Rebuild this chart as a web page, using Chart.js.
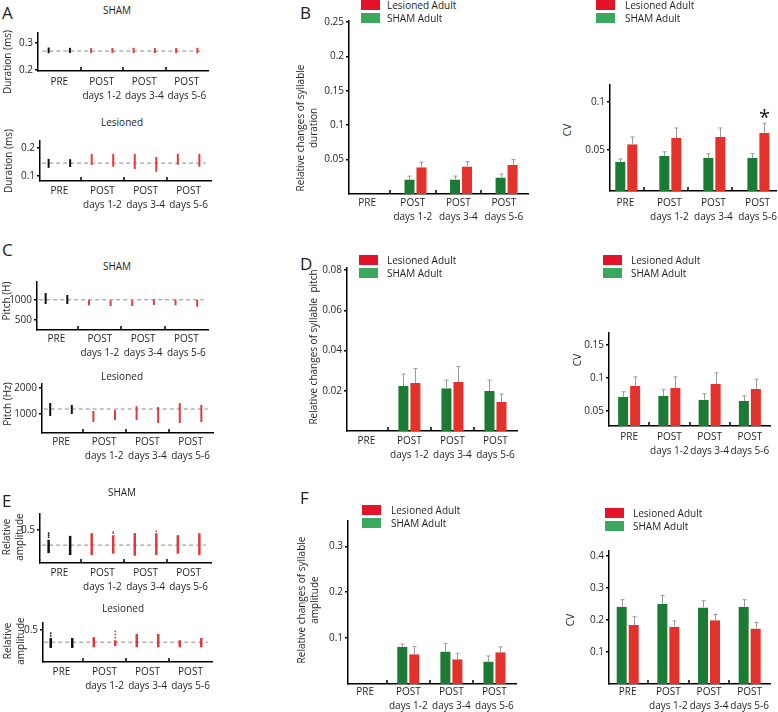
<!DOCTYPE html>
<html><head><meta charset="utf-8"><title>Syllable features after lesion</title>
<script src="https://cdn.jsdelivr.net/npm/chart.js@4.4.1/dist/chart.umd.min.js"></script>
<style>
html,body{margin:0;padding:0;background:#fff}
body{position:relative;width:778px;height:712px;overflow:hidden;font-family:"Open Sans",sans-serif;color:#231f20}
canvas{position:absolute}
.tx{position:absolute;font-size:10px;line-height:13px;white-space:pre;text-align:center;transform:translate(-50%,-50%)}
.rot{transform:translate(-50%,-50%) rotate(-90deg)}
.let{position:absolute;font-size:17px;line-height:17px;transform:translateY(-50%)}
.sw{position:absolute;width:19px}
.lg{position:absolute;font-size:10px;line-height:12px;white-space:nowrap;transform:translateY(-50%)}
</style></head><body>
<script>
// ---------- categories, series, tick labels ----------
const categories = ['PRE', ['POST', 'days 1-2'], ['POST', 'days 3-4'], ['POST', 'days 5-6']];
const seriesNames = ['Lesioned Adult', 'SHAM Adult'];

// ---------- left column: per-song strips (two per category: low / high) ----------
const durShamLow  = [0.262, 0.263, 0.263, 0.263, 0.263, 0.263, 0.262, 0.262];
const durShamHigh = [0.283, 0.282, 0.281, 0.281, 0.282, 0.281, 0.281, 0.282];
const durShamRef = 0.270;
const durLesLow  = [0.129, 0.132, 0.139, 0.133, 0.125, 0.115, 0.140, 0.133];
const durLesHigh = [0.161, 0.160, 0.179, 0.179, 0.179, 0.168, 0.179, 0.179];
const durLesRef = 0.146;
const pitchShamLow  = [900, 900, 867, 850, 850, 875, 867, 833];
const pitchShamHigh = [1175, 1125, 1000, 992, 992, 1017, 1008, 1000];
const pitchShamRef = 1005;
const pitchLesLow  = [923, 1000, 692, 770, 770, 650, 650, 690];
const pitchLesHigh = [1423, 1346, 1115, 1150, 1300, 1270, 1420, 1350];
const pitchLesRef = 1192;
const ampShamLow  = [0.15, 0.12, 0.12, 0.14, 0.11, 0.12, 0.14, 0.12];
const ampShamHigh = [0.35, 0.41, 0.45, 0.42, 0.45, 0.45, 0.42, 0.45];
const ampShamRef = 0.27;
// isolated outlier points: [strip index, value]
const ampShamOutliers = [[0, 0.39], [0, 0.42], [0, 0.45], [3, 0.45], [3, 0.47], [5, 0.48]];
const ampLesLow  = [0.22, 0.22, 0.23, 0.25, 0.23, 0.23, 0.23, 0.23];
const ampLesHigh = [0.375, 0.375, 0.39, 0.34, 0.44, 0.44, 0.34, 0.375];
const ampLesRef = 0.31;
const ampLesOutliers = [[0, 0.41], [0, 0.45], [3, 0.38], [3, 0.43], [3, 0.48]];

// ---------- relative changes (middle column) ----------
const durRelSham    = [null, 0.021, 0.021, 0.024];
const durRelShamErr = [null, 0.026, 0.026, 0.029];
const durRelLes     = [null, 0.039, 0.040, 0.042];
const durRelLesErr  = [null, 0.046, 0.047, 0.050];
const pitchRelSham    = [null, 0.0223, 0.0213, 0.0199];
const pitchRelShamErr = [null, 0.0283, 0.0253, 0.0253];
const pitchRelLes     = [null, 0.0238, 0.0243, 0.0144];
const pitchRelLesErr  = [null, 0.031, 0.032, 0.0184];
const ampRelSham    = [null, 0.081, 0.071, 0.049];
const ampRelShamErr = [null, 0.087, 0.088, 0.061];
const ampRelLes     = [null, 0.065, 0.054, 0.069];
const ampRelLesErr  = [null, 0.082, 0.067, 0.081];

// ---------- CV (right column) ----------
const durCvSham    = [0.0375, 0.0437, 0.0417, 0.0417];
const durCvShamErr = [0.0406, 0.048, 0.046, 0.046];
const durCvLes     = [0.056, 0.0625, 0.0635, 0.068];
const durCvLesErr  = [0.0635, 0.073, 0.073, 0.078];
const durCvMarks   = ['', '', '', '*'];
const pitchCvSham    = [0.0712, 0.0727, 0.0667, 0.065];
const pitchCvShamErr = [0.0788, 0.082, 0.0758, 0.0727];
const pitchCvLes     = [0.0879, 0.0848, 0.091, 0.083];
const pitchCvLesErr  = [0.1015, 0.1015, 0.1076, 0.098];
const ampCvSham    = [0.241, 0.250, 0.239, 0.241];
const ampCvShamErr = [0.263, 0.276, 0.260, 0.263];
const ampCvLes     = [0.184, 0.179, 0.199, 0.173];
const ampCvLesErr  = [0.210, 0.197, 0.217, 0.192];

// ---------- y tick values / labels ----------
const durShamTicks = [0.2, 0.3],   durShamTickLabels = ['0.2', '0.3'];
const durLesTicks = [0.1, 0.2],    durLesTickLabels = ['0.1', '0.2'];
const pitchShamTicks = [500, 1000], pitchShamTickLabels = ['500', '1000'];
const pitchLesTicks = [1000, 2000], pitchLesTickLabels = ['1000', '2000'];
const ampTicks = [0.5], ampTickLabels = ['0.5'];
const durRelTicks = [0.05, 0.1, 0.15, 0.2, 0.25], durRelTickLabels = ['0.05', '0.1', '0.15', '0.2', '0.25'];
const durCvTicks = [0.05, 0.1], durCvTickLabels = ['0.05', '0.1'];
const pitchRelTicks = [0.02, 0.04, 0.06, 0.08], pitchRelTickLabels = ['0.02', '0.04', '0.06', '0.08'];
const pitchCvTicks = [0.05, 0.1, 0.15], pitchCvTickLabels = ['0.05', '0.1', '0.15'];
const ampRelTicks = [0.1, 0.2, 0.3], ampRelTickLabels = ['0.1', '0.2', '0.3'];
const ampCvTicks = [0.1, 0.2, 0.3, 0.4], ampCvTickLabels = ['0.1', '0.2', '0.3', '0.4'];

// ---------- styles ----------
const GREEN = '#1b7b35', RED = '#e3312b', STRIP_RED = '#e03b3b', STRIP_BLACK = '#111111';
const SW_RED = '#e3132a', SW_GREEN = '#3aa95e', ERR = '#9a9a9a';
const FONT = {family: '"Open Sans", sans-serif', size: 10, lineHeight: 1.35};

const sepPlugin = {
  id: 'sep',
  afterDraw(chart, args, opts) {
    const xs = chart.scales.x, ctx = chart.ctx, yb = chart.chartArea.bottom;
    ctx.save(); ctx.strokeStyle = '#000'; ctx.lineWidth = 1.5;
    (opts.at || []).forEach(v => {
      const px = Math.round(xs.getPixelForValue(v));
      ctx.beginPath(); ctx.moveTo(px, yb); ctx.lineTo(px, yb - 4); ctx.stroke();
    });
    ctx.restore();
  }
};
const errPlugin = {
  id: 'errbars',
  afterDatasetsDraw(chart) {
    const ctx = chart.ctx, ys = chart.scales.y;
    chart.data.datasets.forEach((ds, di) => {
      if (!ds.errTop) return;
      const meta = chart.getDatasetMeta(di);
      meta.data.forEach((el, i) => {
        const e = ds.errTop[i], v = ds.data[i].y;
        if (e == null || v == null) return;
        const x = Math.round(el.x) + 0.5, y0 = el.y, y1 = ys.getPixelForValue(e);
        ctx.save(); ctx.strokeStyle = ERR; ctx.lineWidth = 1;
        ctx.beginPath(); ctx.moveTo(x, y0); ctx.lineTo(x, y1);
        ctx.moveTo(x - 2, y1); ctx.lineTo(x + 2, y1); ctx.stroke();
        if (ds.marks && ds.marks[i]) {
          ctx.fillStyle = '#111'; ctx.font = '20px "Open Sans", sans-serif';
          ctx.textAlign = 'center'; ctx.textBaseline = 'alphabetic';
          ctx.fillText(ds.marks[i], el.x, y1 + 1);
        }
        ctx.restore();
      });
    });
  }
};

const stripX = i => Math.floor(i / 2) + (i % 2 ? 0.75 : 0.25);
function stripSets(lo, hi, ref, thick, outliers) {
  const sets = [
    {type: 'bar', grouped: false, barThickness: thick, inflateAmount: 0, order: 1,
     data: lo.map((l, i) => ({x: stripX(i), y: [l, hi[i]]})),
     backgroundColor: lo.map((l, i) => i < 2 ? STRIP_BLACK : STRIP_RED)},
    {type: 'line', order: 2, data: [{x: 0.1, y: ref}, {x: 3.9, y: ref}],
     borderColor: '#8c8c8c', borderWidth: 1, borderDash: [4, 3], pointRadius: 0}
  ];
  if (outliers) {
    sets.push({type: 'scatter', order: 0, showLine: false,
      data: outliers.map(o => ({x: stripX(o[0]), y: o[1]})),
      pointRadius: 0.9, borderWidth: 0,
      backgroundColor: outliers.map(o => o[0] < 2 ? STRIP_BLACK : STRIP_RED)});
  }
  return sets;
}
function barSets(sham, shamErr, les, lesErr, shift, marks) {
  const common = {type: 'bar', barThickness: 12, borderColor: 'rgba(0,0,0,0)',
    borderWidth: {left: 1, right: 1, top: 0, bottom: 0}, inflateAmount: 0};
  return [
    Object.assign({label: seriesNames[1], backgroundColor: GREEN, errTop: shamErr,
      data: sham.map((v, i) => ({x: i + 0.5 + shift, y: v}))}, common),
    Object.assign({label: seriesNames[0], backgroundColor: RED, errTop: lesErr, marks: marks,
      data: les.map((v, i) => ({x: i + 0.5 + shift, y: v}))}, common)
  ];
}

function makeChart(box, xr, yr, yTicks, yLabels, labelPad, labelShift, datasets) {
  const yw = 34, xh = 36, pt = 8, pr = 8;
  const cv = document.createElement('canvas');
  const w = box.R - box.L + yw + pr, h = box.B - box.T + pt + xh;
  cv.width = w; cv.height = h;
  cv.style.left = (box.L - yw) + 'px'; cv.style.top = (box.T - pt) + 'px';
  cv.style.width = w + 'px'; cv.style.height = h + 'px';
  document.body.appendChild(cv);
  new Chart(cv, {
    type: 'bar',
    data: {datasets: datasets},
    options: {
      responsive: false, animation: false, devicePixelRatio: 1,
      layout: {padding: {top: pt, right: pr, left: 0, bottom: 0}},
      plugins: {legend: {display: false}, tooltip: {enabled: false}, sep: {at: [1, 2, 3]}},
      scales: {
        x: {type: 'linear', min: xr[0], max: xr[1], offset: false,
          grid: {display: false, drawTicks: false},
          border: {display: true, color: '#000', width: 1.5},
          ticks: {autoSkip: false, maxRotation: 0, minRotation: 0, padding: labelPad, color: '#231f20', font: FONT,
            callback: (v, i) => categories[i]},
          afterBuildTicks: s => { s.ticks = categories.map((c, i) => ({value: i + 0.5 + labelShift})); },
          afterFit: s => { s.height = xh; s.paddingLeft = 0; s.paddingRight = 0; }
        },
        y: {type: 'linear', min: yr[0], max: yr[1],
          grid: {display: true, drawOnChartArea: false, drawTicks: true, tickLength: 3, color: '#000', lineWidth: 1.5},
          border: {display: true, color: '#000', width: 1.5},
          ticks: {padding: 2, color: '#231f20', font: FONT, callback: (v, i) => yLabels[i]},
          afterBuildTicks: s => { s.ticks = yTicks.map(v => ({value: v})); },
          afterFit: s => { s.width = yw; s.paddingTop = 0; s.paddingBottom = 0; }
        }
      }
    },
    plugins: [sepPlugin, errPlugin]
  });
}

// ---------- left column ----------
makeChart({L: 38, T: 33, R: 208, B: 71}, [0, 4], [0.196, 0.337], durShamTicks, durShamTickLabels, 4.5, 0,
  stripSets(durShamLow, durShamHigh, durShamRef, 2));
makeChart({L: 40, T: 141, R: 211, B: 181}, [0.05, 4.02], [0.082, 0.225], durLesTicks, durLesTickLabels, 3.5, 0,
  stripSets(durLesLow, durLesHigh, durLesRef, 2));
makeChart({L: 37, T: 282, R: 208, B: 330}, [0.05, 4.0], [250, 1450], pitchShamTicks, pitchShamTickLabels, 2.5, 0,
  stripSets(pitchShamLow, pitchShamHigh, pitchShamRef, 2));
makeChart({L: 42, T: 384, R: 213, B: 433}, [0.06, 4.02], [269, 2154], pitchLesTicks, pitchLesTickLabels, 2.5, 0,
  stripSets(pitchLesLow, pitchLesHigh, pitchLesRef, 2));
makeChart({L: 40, T: 514, R: 211, B: 563}, [0.05, 4.02], [0, 0.74], ampTicks, ampTickLabels, 3.5, 0,
  stripSets(ampShamLow, ampShamHigh, ampShamRef, 2.5, ampShamOutliers));
makeChart({L: 43, T: 623, R: 212, B: 662}, [0.07, 4.0], [0, 0.61], ampTicks, ampTickLabels, 3.5, 0,
  stripSets(ampLesLow, ampLesHigh, ampLesRef, 2.5, ampLesOutliers));

// ---------- middle column ----------
makeChart({L: 349, T: 21, R: 528, B: 194}, [0.1, 4.03], [0, 0.2515], durRelTicks, durRelTickLabels, 2.5, 0,
  barSets(durRelSham, durRelShamErr, durRelLes, durRelLesErr, 0.06, null));
makeChart({L: 347, T: 268, R: 517, B: 431}, [0.05, 4.0], [0, 0.081], pitchRelTicks, pitchRelTickLabels, 3.5, 0,
  barSets(pitchRelSham, pitchRelShamErr, pitchRelLes, pitchRelLesErr, 0, null));
makeChart({L: 348, T: 521, R: 516, B: 684}, [0.1, 4.0], [0, 0.355], ampRelTicks, ampRelTickLabels, 1.5, 0,
  barSets(ampRelSham, ampRelShamErr, ampRelLes, ampRelLesErr, 0, null));

// ---------- right column ----------
makeChart({L: 610, T: 85, R: 776, B: 191}, [0.23, 4.0], [0.007, 0.118], durCvTicks, durCvTickLabels, 5.5, 0.08,
  barSets(durCvSham, durCvShamErr, durCvLes, durCvLesErr, 0.1, durCvMarks));
makeChart({L: 609, T: 333, R: 770, B: 426}, [0, 4.0], [0.027, 0.168], pitchCvTicks, pitchCvTickLabels, 4.5, 0,
  barSets(pitchCvSham, pitchCvShamErr, pitchCvLes, pitchCvLesErr, 0, null));
makeChart({L: 609, T: 551, R: 770, B: 684}, [0.04, 4.0], [0, 0.415], ampCvTicks, ampCvTickLabels, 1.5, 0,
  barSets(ampCvSham, ampCvShamErr, ampCvLes, ampCvLesErr, 0, null));

// ---------- text ----------
function addDiv(cls, text, x, y, style) {
  const d = document.createElement('div');
  d.className = cls; d.textContent = text;
  d.style.left = x + 'px'; d.style.top = y + 'px';
  if (style) Object.assign(d.style, style);
  document.body.appendChild(d);
}
[['A', 2, 12], ['B', 300, 12], ['C', 2, 249], ['D', 300, 263], ['E', 2, 500], ['F', 300, 497]]
  .forEach(a => addDiv('let', a[0], a[1], a[2]));
[['SHAM', 117, 10], ['Lesioned', 122, 122], ['SHAM', 117, 266], ['Lesioned', 122, 376], ['SHAM', 122, 492], ['Lesioned', 123, 608]]
  .forEach(a => addDiv('tx', a[0], a[1], a[2]));
[['Duration (ms)', 7, 62], ['Duration (ms)', 8, 161], ['Pitch (H)', 6, 301], ['Pitch (Hz)', 7, 404],
 ['Relative\namplitude', 13, 537], ['Relative\namplitude', 14, 641],
 ['Relative changes of syllable\nduration', 307, 128], ['Relative changes of syllable  pitch', 313, 347],
 ['Relative changes of syllable\namplitude', 308, 600],
 ['CV', 567, 130], ['CV', 577, 360], ['CV', 570, 620]]
  .forEach(a => addDiv('tx rot', a[0], a[1], a[2]));
function addLegend(x, y, tx) {
  addDiv('sw', '', x, y, {height: '10px', background: SW_RED});
  addDiv('lg', seriesNames[0], tx, y + 5);
  addDiv('sw', '', x, y + 13, {height: '10px', background: SW_GREEN});
  addDiv('lg', seriesNames[1], tx, y + 18);
}
addLegend(361, 0, 387); addLegend(596, 0, 625);
addLegend(359, 255, 387); addLegend(603, 255, 631);
addLegend(362, 505, 391); addLegend(605, 508, 633);
</script>
</body></html>
